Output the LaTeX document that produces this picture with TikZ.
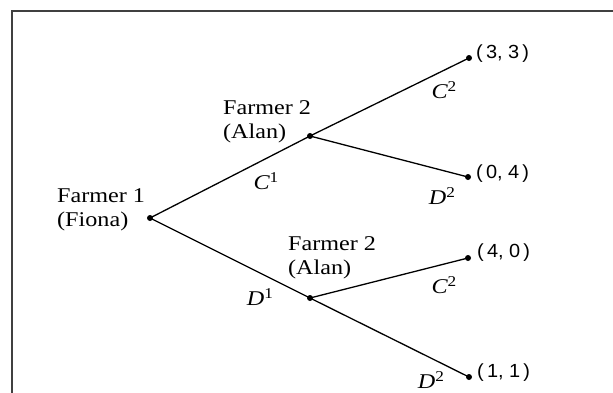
\documentclass[tikz,border=0pt]{standalone}
\usepackage{fontspec}
\setmainfont{Liberation Serif}[FakeStretch=1.15]
\newfontfamily\payfont{Liberation Sans}[FakeStretch=1.05]
\newcommand{\mvsup}[1]{\raisebox{6.5pt}{\fontsize{15}{15}\selectfont\upshape #1}}
\begin{document}
\begin{tikzpicture}[x=1pt,y=-1pt,
  dot/.style={circle,fill=black,inner sep=0pt,minimum size=6pt},
  edge/.style={line width=1.3pt,black},
  player/.style={align=left,inner sep=0pt,font=\fontsize{21}{23.5}\selectfont,text=black},
  move/.style={inner sep=0pt,font=\fontsize{21}{22}\selectfont\itshape,text=black},
  pay/.style={anchor=west,inner sep=0pt,font=\payfont\fontsize{19}{20}\selectfont,text=black},
  frame/.style={line width=2pt,black!75}]
\useasboundingbox (0,0) rectangle (613,392);
\draw[frame] (12,400) -- (12,11) -- (620,11);
% decision nodes
\node[dot] (r) at (150,218) {};
\node[dot] (a) at (310,136) {};
\node[dot] (b) at (310,298) {};
% terminal nodes
\node[dot] (t1) at (469,58) {};
\node[dot] (t2) at (468,177) {};
\node[dot] (t3) at (468,258) {};
\node[dot] (t4) at (469,377) {};
% edges
\draw[edge] (r.center) -- (a.center);
\draw[edge] (r.center) -- (b.center);
\draw[edge] (a.center) -- (t1.center);
\draw[edge] (a.center) -- (t2.center);
\draw[edge] (b.center) -- (t3.center);
\draw[edge] (b.center) -- (t4.center);
% player labels
\node[player,anchor=west] (l1) at (57,210) {Farmer 1\\(Fiona)};
\node[player,anchor=west] (l2) at (223,122) {Farmer 2\\(Alan)};
\node[player,anchor=west] (l3) at (288,258) {Farmer 2\\(Alan)};
% move labels
\node[move] (m1) at (266,181) {C\mvsup{1}};
\node[move] (m2) at (260,297) {D\mvsup{1}};
\node[move] (m3) at (444,90) {C\mvsup{2}};
\node[move] (m4) at (442,196) {D\mvsup{2}};
\node[move] (m5) at (444,285) {C\mvsup{2}};
\node[move] (m6) at (431,380) {D\mvsup{2}};
% payoffs
\node[pay] (p1) at (476,54) {(\,3,~3\,)};
\node[pay] (p2) at (476,174) {(\,0,~4\,)};
\node[pay] (p3) at (477,253) {(\,4,~0\,)};
\node[pay] (p4) at (477,373) {(\,1,~1\,)};
\end{tikzpicture}
\end{document}
